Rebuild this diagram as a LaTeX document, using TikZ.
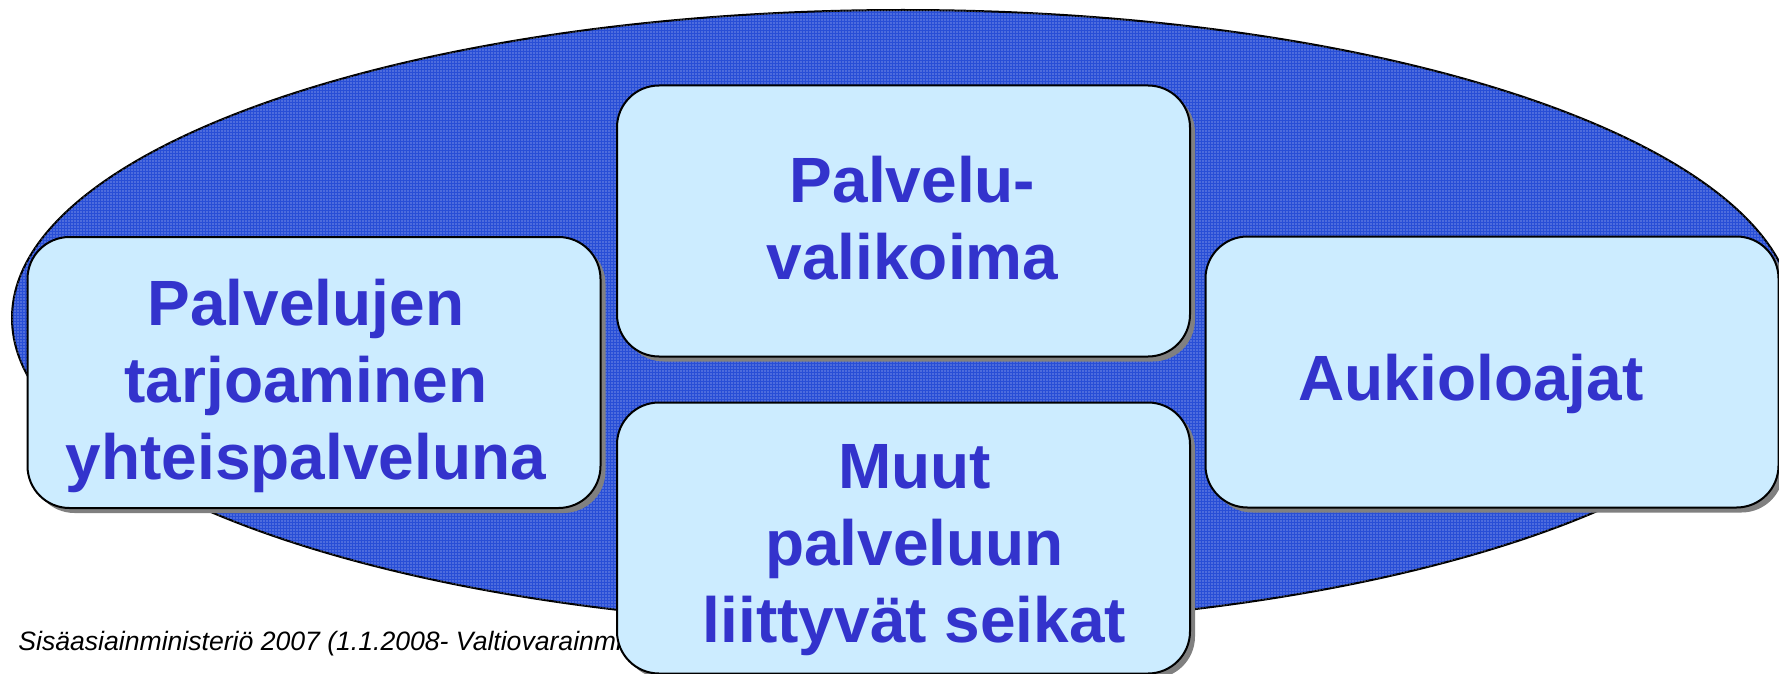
\documentclass[tikz,border=0pt]{standalone}
\usepackage{fontspec}
\setmainfont{Liberation Sans}
\usetikzlibrary{shadows,patterns.meta}
\definecolor{ellblue}{RGB}{40,78,214}
\definecolor{boxblue}{RGB}{204,236,255}
\definecolor{textblue}{RGB}{51,51,204}
\definecolor{shadowgray}{RGB}{128,128,128}
\tikzdeclarepattern{name=finedots, type=uncolored,
  bounding box={(-0.75pt,-0.75pt) and (0.75pt,0.75pt)},
  tile size={(1.5pt,1.5pt)},
  code={\fill (0pt,0pt) circle (0.3pt);}}

\begin{document}
\begin{tikzpicture}[x=0.5pt, y=-0.5pt,
  topic/.style={draw, line width=1pt, fill=boxblue, rounded corners=21pt,
    minimum width=286.5pt, minimum height=135.5pt,
    drop shadow={shadow xshift=2.5pt, shadow yshift=-2.5pt, fill=shadowgray, opacity=1}},
  topictext/.style={align=center, text=textblue, inner sep=0pt,
    font=\bfseries\fontsize{32}{38.5}\selectfont}]
\useasboundingbox (0,0) rectangle (1779,674);
\draw [line width=1pt, fill=ellblue, postaction={pattern=finedots, pattern color=white!75!ellblue}] (903,318) ellipse [x radius=891, y radius=308];

\node [anchor=base west, inner sep=0pt, font=\itshape\fontsize{13.3}{15}\selectfont] (lahde) at (18,650) {Sisäasiainministeriö 2007 (1.1.2008- Valtiovarainmi};

\node [topic] (valikoima) at (903.5,221) {};
\node [topic] (palvelut) at (314,372.5) {};
\node [topic] (aukiolo) at (1492,372) {};
\node [topic] (muut) at (903.5,538) {};

% texts
\node [topictext] (valikoima-t) at ([shift={(9,-3)}]valikoima) {Palvelu-\\valikoima};
\node [topictext] (palvelut-t) at ([shift={(-8,13)}]palvelut) {Palvelujen\\tarjoaminen\\yhteispalveluna};
\node [topictext] (aukiolo-t) at ([shift={(-21,12)}]aukiolo) {Aukioloajat};
\node [topictext] (muut-t) at ([shift={(11,12)}]muut) {Muut\\palveluun\\liittyvät seikat};
\end{tikzpicture}
\end{document}
